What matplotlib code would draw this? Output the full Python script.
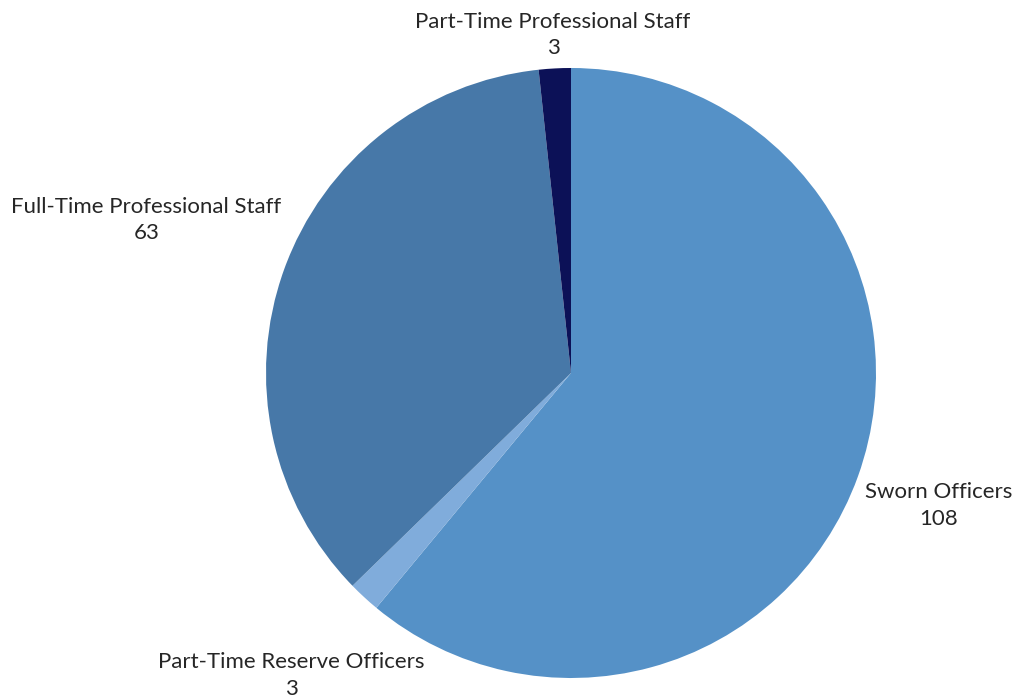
import matplotlib
matplotlib.use("Agg")
import matplotlib.pyplot as plt
import numpy as np

# Staff composition, drawn clockwise from 12 o'clock
categories = ["Sworn Officers", "Part-Time Reserve Officers",
              "Full-Time Professional Staff", "Part-Time Professional Staff"]
counts = [108, 3, 63, 3]
colors = ["#5591C7", "#80ACDB", "#4778A8", "#0C1157"]

# radial distance of each label centre (in pie radii)
label_dist = [1.28, 1.35, 1.48, 1.11]

plt.rcParams["font.family"] = ["Lato", "DejaVu Sans"]

W, H, DPI = 1013, 696, 100
fig = plt.figure(figsize=(W / DPI, H / DPI), dpi=DPI)
ax = fig.add_axes([0, 0, 1, 1])

ax.pie(counts, colors=colors, startangle=90, counterclock=False,
       wedgeprops=dict(linewidth=0))

# place the pie: centre at (571, 373) px, radius 305 px
cx, cy, r = 571, 373, 305
ax.set_xlim(-cx / r, (W - cx) / r)
ax.set_ylim((cy - H) / r, cy / r)
ax.set_aspect("auto")
ax.axis("off")

total = sum(counts)
start = 90.0
for name, n, d in zip(categories, counts, label_dist):
    sweep = n / total * 360
    mid = np.deg2rad(start - sweep / 2)
    start -= sweep
    ax.text(d * np.cos(mid), d * np.sin(mid), f"{name}\n{n}",
            ha="center", va="center", fontsize=16, color="#262626",
            linespacing=1.4)

fig.savefig("out.png", dpi=DPI)
